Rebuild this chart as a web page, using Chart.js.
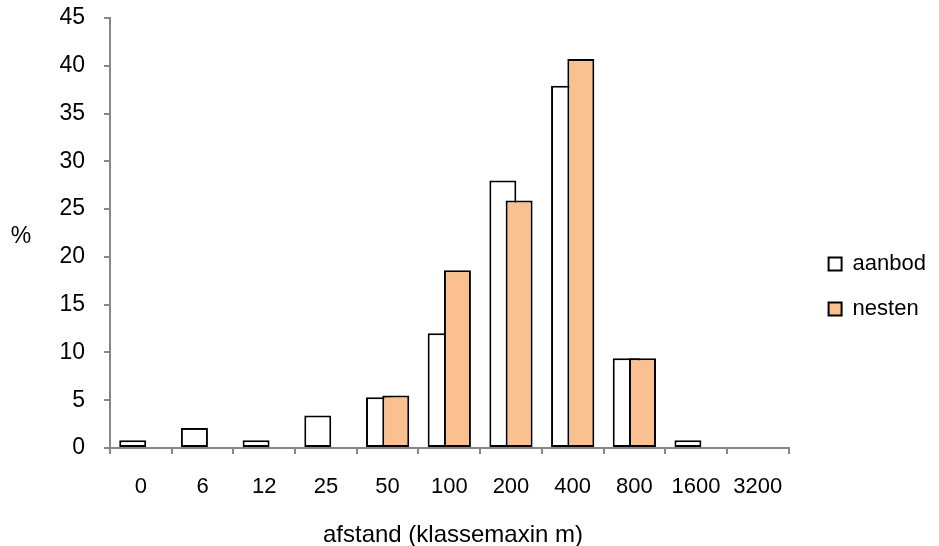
<!DOCTYPE html>
<html>
<head>
<meta charset="utf-8">
<script src="https://cdn.jsdelivr.net/npm/chart.js@4/dist/chart.umd.min.js"></script>
<style>
  html, body { margin: 0; padding: 0; background: #ffffff; }
  #wrap { width: 939px; height: 546px; }
</style>
</head>
<body>
<div id="wrap"><canvas id="c" width="939" height="546"></canvas></div>
<script>
// Distance classes (upper bound of each class, in metres)
const categories = ['0', '6', '12', '25', '50', '100', '200', '400', '800', '1600', '3200'];
// Percentage per distance class
const aanbod = [0.8, 2.1, 0.8, 3.4, 5.3, 12.0, 28.0, 37.9, 9.4, 0.8, null];
const nesten = [null, null, null, null, 5.5, 18.6, 25.9, 40.7, 9.4, null, null];
const seriesNames = ['aanbod', 'nesten'];
const yTicks = [0, 5, 10, 15, 20, 25, 30, 35, 40, 45];
const yTitle = '%';
const xTitle = 'afstand (klassemaxin m)';

const FONT = "'Liberation Sans', Arial, sans-serif";
const AXIS_COLOR = '#868686';
const FONT_SIZE = 22;

// Horizontal "%" label left of the y axis and the x-axis caption
const axisTexts = {
  id: 'axisTexts',
  afterDraw(chart) {
    const { ctx, chartArea } = chart;
    ctx.save();
    ctx.fillStyle = '#000000';
    ctx.textAlign = 'center';
    ctx.textBaseline = 'middle';
    ctx.font = `23px ${FONT}`;
    ctx.fillText(yTitle, chartArea.left - 89, (chartArea.top + chartArea.bottom) / 2 + 4);
    ctx.font = `24px ${FONT}`;
    ctx.fillText(xTitle, chartArea.left + 343, chartArea.bottom + 87);
    ctx.restore();
  }
};

// Draw the series in index order so the second series overlaps the first
const drawInOrder = {
  id: 'drawInOrder',
  beforeDatasetsDraw(chart) {
    chart.data.datasets.forEach((ds, i) => {
      const meta = chart.getDatasetMeta(i);
      if (meta.visible) meta.controller.draw();
    });
    return false;
  }
};

new Chart(document.getElementById('c'), {
  type: 'bar',
  data: {
    labels: categories,
    datasets: [
      {
        label: seriesNames[0],
        data: aanbod,
        backgroundColor: '#ffffff',
        borderColor: '#000000',
        borderWidth: 2,
        borderSkipped: false
      },
      {
        label: seriesNames[1],
        data: nesten,
        backgroundColor: '#FAC090',
        borderColor: '#000000',
        borderWidth: 2,
        borderSkipped: false
      }
    ]
  },
  options: {
    responsive: false,
    animation: false,
    devicePixelRatio: 1,
    categoryPercentage: 0.528,
    barPercentage: 1.656,
    layout: { padding: { top: 18, right: 3, bottom: 0, left: 0 } },
    plugins: {
      tooltip: { enabled: false },
      legend: {
        position: 'right',
        align: 'center',
        title: { display: true, text: '', font: { size: 1 }, padding: { top: 8, bottom: 0 } },
        labels: {
          boxWidth: 13,
          boxHeight: 13,
          padding: 23,
          color: '#000000',
          font: { family: FONT, size: FONT_SIZE }
        }
      }
    },
    scales: {
      x: {
        offset: true,
        grid: {
          offset: true,
          drawOnChartArea: false,
          drawTicks: true,
          tickLength: 6,
          color: AXIS_COLOR,
          lineWidth: 2
        },
        border: { color: AXIS_COLOR, width: 2 },
        ticks: {
          color: '#000000',
          font: { family: FONT, size: FONT_SIZE },
          padding: 20,
          maxRotation: 0,
          autoSkip: false
        },
        afterFit(scale) {
          scale.height = 98;
          scale.paddingLeft = 0;
          scale.paddingRight = 0;
        }
      },
      y: {
        min: yTicks[0],
        max: yTicks[yTicks.length - 1],
        afterBuildTicks(scale) { scale.ticks = yTicks.map(v => ({ value: v })); },
        grid: {
          drawOnChartArea: false,
          drawTicks: true,
          tickLength: 6,
          color: AXIS_COLOR,
          lineWidth: 2
        },
        border: { color: AXIS_COLOR, width: 2 },
        ticks: {
          color: '#000000',
          font: { family: FONT, size: 23 },
          padding: 19
        },
        afterFit(scale) {
          scale.width = 110;
          scale.paddingTop = 0;
          scale.paddingBottom = 0;
        }
      },
      // empty spacer between plot and legend
      gap: {
        axis: 'y',
        position: 'right',
        grid: { display: false },
        border: { display: false },
        ticks: { display: false },
        afterFit(scale) {
          scale.width = 17;
          scale.paddingTop = 0;
          scale.paddingBottom = 0;
        }
      }
    }
  },
  plugins: [drawInOrder, axisTexts]
});
</script>
</body>
</html>
